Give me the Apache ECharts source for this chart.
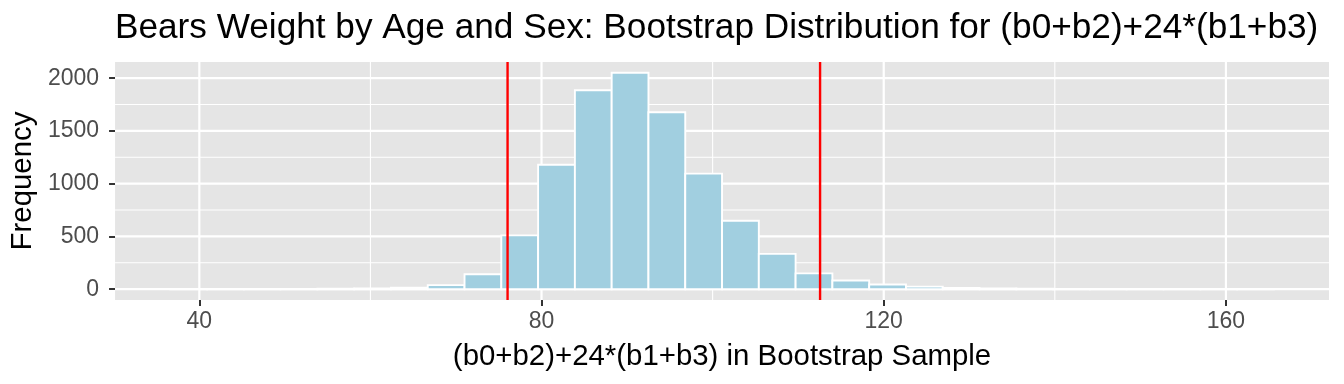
<!DOCTYPE html>
<html><head><meta charset="utf-8">
<script src="https://cdn.jsdelivr.net/npm/echarts@6/dist/echarts.min.js"></script>
<style>html,body{margin:0;padding:0;background:#fff}#c{width:1344px;height:384px}</style>
</head><body><div id="c"></div>
<script>
// Histogram bins (centers) and counts
const binCenters = [38.75, 43.05, 47.35, 51.65, 55.95, 60.25, 64.55, 68.85, 73.15, 77.45,
  81.75, 86.05, 90.35, 94.65, 98.95, 103.25, 107.55, 111.85, 116.15, 120.45,
  124.75, 129.05, 133.35, 137.65, 141.95, 146.25, 150.55, 154.85, 159.15, 163.45];
const binWidth = 4.3;
const counts = [1, 1, 2, 3, 4, 6, 15, 38, 142, 510,
  1180, 1886, 2051, 1677, 1095, 649, 335, 150, 82, 44,
  24, 12, 6, 4, 2, 2, 1, 1, 1, 1];
const xTicks = [40, 80, 120, 160];
const xMinor = [60, 100, 140];
const yTicks = [0, 500, 1000, 1500, 2000];
const yMinor = [250, 750, 1250, 1750];
const ciBounds = [76.03, 112.56];
const xLimits = [30.15, 172.05];
const yLimits = [-102.55, 2153.55];

const titleText = 'Bears Weight by Age and Sex: Bootstrap Distribution for (b0+b2)+24*(b1+b3)';
const xName = '(b0+b2)+24*(b1+b3) in Bootstrap Sample';
const yName = 'Frequency';

const FONT = '"Liberation Sans", Arial, Helvetica, sans-serif';

const chart = echarts.init(document.getElementById('c'), null, {renderer: 'canvas'});

const barData = binCenters.map((c, i) => [c, counts[i]]);
const xGridData = xTicks.map(v => [v, 0, 1]).concat(xMinor.map(v => [v, 0, 0]));
const yGridData = yTicks.map(v => [xLimits[0], v, 1]).concat(yMinor.map(v => [xLimits[0], v, 0]));
const ciData = ciBounds.map(v => [v, 0, 1]);

function vLine(color, wMajor, wMinor) {
  return function (params, api) {
    const cs = params.coordSys;
    const p = api.coord([api.value(0), api.value(1)]);
    return {type: 'line', shape: {x1: p[0], y1: cs.y, x2: p[0], y2: cs.y + cs.height},
      style: {stroke: color, lineWidth: api.value(2) ? wMajor : wMinor}};
  };
}
function hLine(params, api) {
  const cs = params.coordSys;
  const p = api.coord([api.value(0), api.value(1)]);
  return {type: 'line', shape: {x1: cs.x, y1: p[1], x2: cs.x + cs.width, y2: p[1]},
    style: {stroke: '#FFFFFF', lineWidth: api.value(2) ? 2.2 : 1.1}};
}
function renderBar(params, api) {
  const c = api.value(0), n = api.value(1);
  const p0 = api.coord([c - binWidth / 2, n]);
  const p1 = api.coord([c + binWidth / 2, 0]);
  return {type: 'rect', shape: {x: p0[0], y: p0[1], width: p1[0] - p0[0], height: p1[1] - p0[1]},
    style: {fill: '#A1CFE0', stroke: '#FFFFFF', lineWidth: 1.9}};
}

chart.setOption({
  animation: false,
  backgroundColor: '#FFFFFF',
  textStyle: {fontFamily: FONT},
  title: {
    text: titleText, left: 115, top: 11, padding: 0,
    textStyle: {fontFamily: FONT, fontSize: 35.2, fontWeight: 'normal', color: '#000000'}
  },
  grid: {left: 115, right: 15, top: 62, bottom: 84, show: true, backgroundColor: '#E5E5E5', borderWidth: 0},
  xAxis: {
    type: 'value', min: xLimits[0], max: xLimits[1],
    axisLine: {show: false, onZero: false},
    axisTick: {show: true, customValues: xTicks, length: 6, lineStyle: {color: '#333333', width: 2}},
    axisLabel: {customValues: xTicks, fontSize: 23, color: '#4D4D4D', margin: 10, fontFamily: FONT,
      formatter: v => String(v)},
    splitLine: {show: false},
    name: xName, nameLocation: 'middle', nameGap: 42,
    nameTextStyle: {fontSize: 29.4, color: '#000000', fontFamily: FONT}
  },
  yAxis: {
    type: 'value', min: yLimits[0], max: yLimits[1],
    axisLine: {show: false, onZero: false},
    axisTick: {show: true, customValues: yTicks, length: 6, lineStyle: {color: '#333333', width: 2}},
    axisLabel: {customValues: yTicks, fontSize: 23, color: '#4D4D4D', margin: 16, fontFamily: FONT,
      formatter: v => String(v)},
    splitLine: {show: false},
    name: yName, nameLocation: 'middle', nameGap: 71,
    nameTextStyle: {fontSize: 29.4, color: '#000000', fontFamily: FONT}
  },
  series: [
    {type: 'custom', name: 'xgrid', renderItem: vLine('#FFFFFF', 2.2, 1.1), data: xGridData, z: 1, silent: true},
    {type: 'custom', name: 'ygrid', renderItem: hLine, data: yGridData, z: 1, silent: true},
    {type: 'custom', name: 'bars', renderItem: renderBar, data: barData, z: 2},
    {type: 'custom', name: 'ci', renderItem: vLine('#FF0000', 2.4, 2.4), data: ciData, z: 3, silent: true}
  ]
});
</script>
</body></html>
